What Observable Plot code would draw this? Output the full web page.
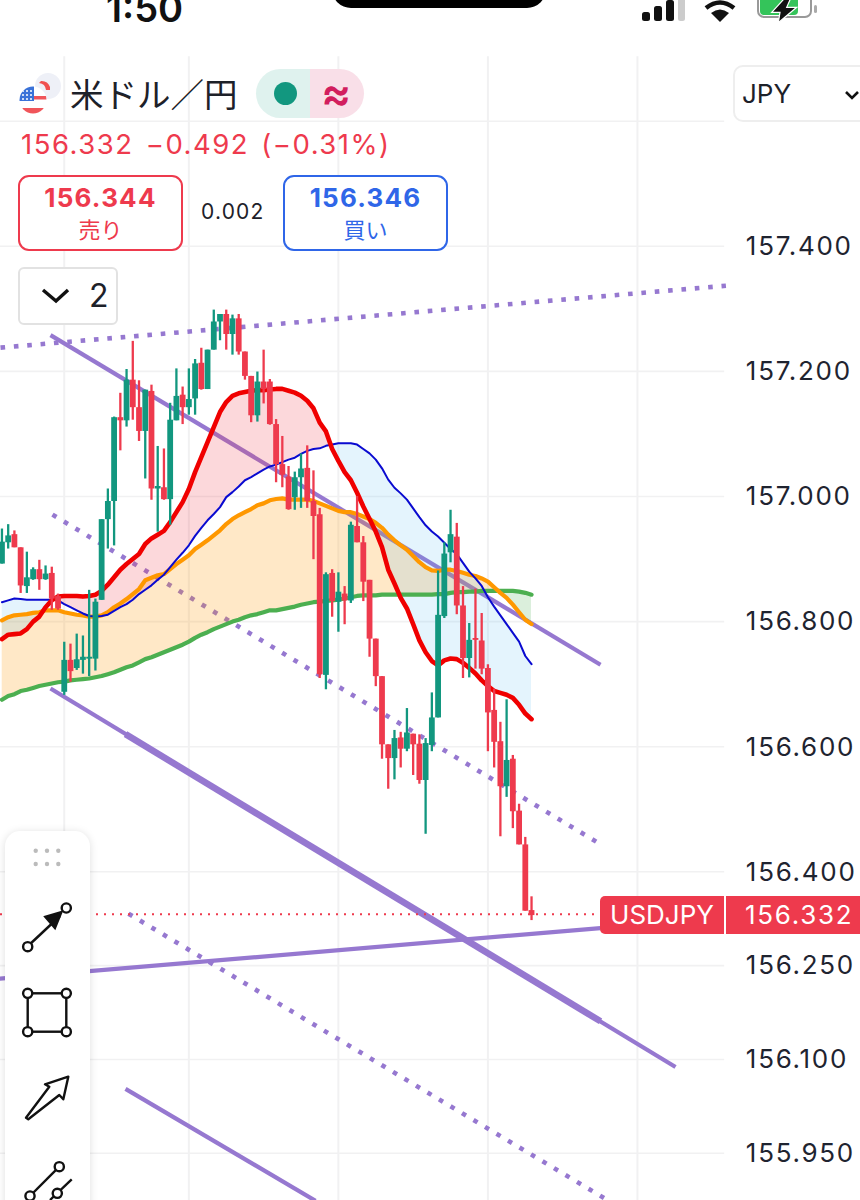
<!DOCTYPE html>
<html lang="ja">
<head>
<meta charset="utf-8">
<script src="https://cdn.jsdelivr.net/npm/d3@7"></script>
<script src="https://cdn.jsdelivr.net/npm/@observablehq/plot@0.6"></script>
<style>
html,body{margin:0;padding:0;background:#fff;width:860px;height:1200px;overflow:hidden}
#page{position:relative;width:860px;height:1200px;overflow:hidden;font-family:Inter,Roboto,sans-serif}
#page svg{display:block}
#page > svg text{letter-spacing:1.7px}
.o{position:absolute;white-space:nowrap;line-height:1}
.c{position:absolute;box-sizing:border-box;text-align:center;border-radius:11px;background:#fff}
</style>
</head>
<body>
<div id="page"></div>
<script>
const open = [156.892,156.926,156.939,156.918,156.856,156.867,156.883,156.867,156.877,156.840,156.687,156.738,156.725,156.738,156.740,156.740,156.834,156.963,156.992,157.126,157.121,157.186,157.142,157.104,157.168,157.012,157.014,156.995,157.121,157.162,157.142,157.156,157.213,157.171,157.234,157.279,157.291,157.259,157.284,157.231,157.192,157.129,157.183,157.183,157.115,157.051,157.031,156.998,157.030,157.045,156.992,156.971,156.714,156.877,156.831,156.844,156.833,156.952,156.926,156.866,156.772,156.712,156.603,156.581,156.614,156.596,156.620,156.604,156.546,156.602,156.646,156.808,156.910,156.935,156.825,156.741,156.773,156.769,156.725,156.658,156.608,156.536,156.580,156.497,156.443,156.338];
const close = [156.927,156.937,156.918,156.857,156.870,156.883,156.867,156.876,156.836,156.820,156.738,156.720,156.739,156.743,156.743,156.831,156.963,156.992,157.126,157.121,157.186,157.142,157.104,157.170,157.012,157.016,156.995,157.122,157.160,157.142,157.155,157.212,157.171,157.234,157.279,157.291,157.259,157.284,157.231,157.192,157.129,157.183,157.171,157.115,157.051,157.034,156.979,157.030,157.044,156.992,156.968,156.715,156.875,156.832,156.847,156.833,156.954,156.926,156.863,156.772,156.712,156.603,156.581,156.613,156.596,156.622,156.603,156.546,156.605,156.646,156.810,156.908,156.939,156.825,156.741,156.770,156.770,156.724,156.654,156.607,156.536,156.578,156.496,156.443,156.337,156.330];
const high = [156.948,156.955,156.945,156.918,156.911,156.886,156.898,156.889,156.887,156.844,156.767,156.764,156.780,156.777,156.850,156.836,156.963,157.012,157.127,157.165,157.203,157.248,157.185,157.170,157.178,157.080,157.076,157.149,157.204,157.175,157.204,157.219,157.237,157.234,157.298,157.291,157.298,157.290,157.291,157.231,157.192,157.199,157.234,157.187,157.123,157.096,157.048,157.039,157.068,157.081,157.041,156.981,156.878,156.883,156.878,156.856,156.959,157.000,156.936,156.866,156.772,156.712,156.603,156.626,156.623,156.661,156.620,156.619,156.613,156.686,156.881,156.926,156.978,156.957,156.856,156.797,156.852,156.813,156.731,156.692,156.639,156.675,156.586,156.508,156.455,156.360];
const low = [156.892,156.916,156.918,156.845,156.845,156.866,156.850,156.866,156.818,156.818,156.682,156.703,156.722,156.716,156.712,156.721,156.834,156.916,156.921,157.073,157.111,157.122,157.088,157.028,156.994,156.943,156.994,156.954,157.121,157.115,157.130,157.130,157.170,157.171,157.234,157.249,157.234,157.226,157.226,157.186,157.118,157.119,157.148,157.114,157.022,157.014,156.978,156.978,156.981,156.981,156.899,156.709,156.691,156.807,156.783,156.795,156.829,156.926,156.832,156.743,156.696,156.580,156.532,156.547,156.566,156.592,156.554,156.540,156.460,156.592,156.646,156.805,156.894,156.811,156.709,156.710,156.724,156.715,156.592,156.566,156.456,156.519,156.469,156.443,156.337,156.322];

const redMA = [156.772,156.779,156.780,156.781,156.788,156.800,156.808,156.823,156.834,156.840,156.841,156.841,156.841,156.840,156.841,156.843,156.849,156.859,156.871,156.883,156.892,156.900,156.908,156.924,156.933,156.939,156.945,156.959,156.975,156.991,157.012,157.039,157.063,157.087,157.111,157.135,157.151,157.161,157.165,157.167,157.169,157.170,157.170,157.171,157.172,157.172,157.169,157.166,157.161,157.153,157.141,157.118,157.104,157.076,157.057,157.039,157.026,157.006,156.984,156.964,156.944,156.919,156.883,156.861,156.838,156.821,156.796,156.770,156.751,156.737,156.730,156.738,156.741,156.740,156.734,156.726,156.717,156.706,156.697,156.689,156.686,156.683,156.678,156.667,156.653,156.644];
const blueMA = [156.831,156.834,156.837,156.836,156.835,156.835,156.835,156.835,156.835,156.834,156.828,156.823,156.818,156.813,156.809,156.808,156.809,156.811,156.817,156.823,156.828,156.835,156.844,156.851,156.858,156.867,156.875,156.887,156.899,156.910,156.922,156.937,156.950,156.962,156.972,156.983,156.999,157.007,157.016,157.026,157.031,157.037,157.043,157.048,157.051,157.055,157.059,157.062,157.068,157.073,157.076,157.077,157.081,157.083,157.085,157.085,157.085,157.083,157.076,157.069,157.059,157.045,157.027,157.014,157.005,156.995,156.981,156.967,156.954,156.944,156.936,156.926,156.916,156.908,156.894,156.880,156.869,156.857,156.839,156.824,156.810,156.796,156.782,156.768,156.745,156.732];
const orangeMA = [156.802,156.807,156.810,156.811,156.812,156.814,156.815,156.818,156.818,156.818,156.815,156.813,156.811,156.810,156.808,156.808,156.810,156.815,156.823,156.829,156.836,156.844,156.852,156.866,156.870,156.874,156.876,156.884,156.892,156.899,156.906,156.916,156.923,156.930,156.938,156.946,156.956,156.964,156.970,156.975,156.980,156.986,156.989,156.994,156.996,156.997,156.995,156.995,156.995,156.995,156.993,156.989,156.985,156.981,156.977,156.975,156.975,156.972,156.968,156.964,156.958,156.950,156.939,156.930,156.922,156.915,156.905,156.895,156.887,156.882,156.881,156.883,156.883,156.881,156.878,156.875,156.873,156.869,156.864,156.855,156.846,156.838,156.827,156.815,156.803,156.796];
const greenMA = [156.675,156.681,156.684,156.689,156.691,156.694,156.697,156.699,156.701,156.703,156.704,156.706,156.707,156.708,156.709,156.711,156.713,156.716,156.719,156.723,156.727,156.730,156.735,156.740,156.743,156.747,156.751,156.755,156.759,156.763,156.768,156.774,156.779,156.783,156.788,156.792,156.796,156.800,156.803,156.807,156.810,156.812,156.815,156.818,156.818,156.820,156.822,156.824,156.827,156.829,156.831,156.832,156.833,156.834,156.835,156.837,156.839,156.841,156.842,156.842,156.842,156.843,156.843,156.843,156.843,156.843,156.843,156.843,156.843,156.843,156.844,156.844,156.846,156.847,156.847,156.848,156.848,156.849,156.849,156.849,156.849,156.849,156.849,156.848,156.846,156.843];

// trend lines: [bar0, price0, bar1, price1]
const solidTrends = [[7.79,157.258,96.07,156.731],[7.79,156.693,108.11,156.088],[-0.39,156.229,96.07,156.310],[19.83,156.053,50.33,155.874]];
const heavyTrends = [[19.83,156.620,96.07,156.161]];
const dottedTrends = [[-0.23,157.238,116.2,157.337],[8.11,156.971,95.75,156.446],[20.31,156.333,96.88,155.877]];

const priceLabels = [157.4,157.2,157.0,156.8,156.6,156.4,156.25,156.1,155.95];
const gridPrices = [157.6,...priceLabels];
const gridBars = [10,30,54,78,102];
const lastPrice = 156.332;
const chartEnd = 116;

const bars = open.map((o,i)=>({i,o,c:close[i],h:high[i],l:low[i],red:redMA[i],blue:blueMA[i],orange:orangeMA[i],green:greenMA[i]}));
const UP="#12977f", DOWN="#ee3a4d", PURPLE="#9678d0";
const seg = a => a.map(([x1,y1,x2,y2])=>({x1,y1,x2,y2}));
const col = d => d.c>=d.o?UP:DOWN;

const chart = Plot.plot({
  width:860,height:1200,margin:0,
  x:{domain:[-0.233,137.8],range:[0,860],axis:null},
  y:{domain:[157.79297,155.8745],range:[0,1200],axis:null},
  style:{background:"#fff",overflow:"hidden"},
  marks:[
    Plot.ruleY(gridPrices,{x1:-0.233,x2:chartEnd,stroke:"#f1f1f2",strokeWidth:1.6}),
    Plot.ruleX(gridBars,{y1:157.703,y2:155.8745,stroke:"#f1f1f2",strokeWidth:2}),
    Plot.link(seg(solidTrends),{x1:"x1",y1:"y1",x2:"x2",y2:"y2",stroke:PURPLE,strokeWidth:4.2}),
    Plot.link(seg(heavyTrends),{x1:"x1",y1:"y1",x2:"x2",y2:"y2",stroke:PURPLE,strokeWidth:6.6}),
    Plot.link(seg(dottedTrends),{x1:"x1",y1:"y1",x2:"x2",y2:"y2",stroke:PURPLE,strokeWidth:4.6,strokeDasharray:"4.6 8.8"}),
    Plot.ruleY([lastPrice],{x1:-0.233,x2:96,stroke:DOWN,strokeWidth:2,strokeDasharray:"2 6"}),
    Plot.differenceY(bars,{x:"i",y1:"green",y2:"orange",positiveFill:"#ff9800",negativeFill:"#4caf50",positiveFillOpacity:0.22,negativeFillOpacity:0.2,stroke:"none"}),
    Plot.differenceY(bars,{x:"i",y1:"blue",y2:"red",positiveFill:"#ee3a4d",negativeFill:"#55b8f2",positiveFillOpacity:0.2,negativeFillOpacity:0.16,stroke:"none"}),
    Plot.line(bars,{x:"i",y:"green",stroke:"#4caf50",strokeWidth:4.2}),
    Plot.line(bars,{x:"i",y:"orange",stroke:"#ff9800",strokeWidth:4.2}),
    Plot.line(bars,{x:"i",y:"blue",stroke:"#0a0ad0",strokeWidth:2}),
    Plot.line(bars,{x:"i",y:"red",stroke:"#f00000",strokeWidth:4.6}),
    Plot.ruleX(bars,{x:"i",y1:"l",y2:"h",stroke:col,strokeWidth:2.3}),
    Plot.ruleX(bars,{x:"i",y1:"o",y2:"c",stroke:col,strokeWidth:5.8}),
    Plot.text(priceLabels,{x:()=>119.4,y:d=>d,dy:0.5,text:d3.format(".3f"),textAnchor:"start",fontSize:26,fontFamily:"Inter,Roboto,sans-serif",fill:"#1f2430"})
  ]
});
const page=document.getElementById("page");
page.appendChild(chart);
function add(cls,style,html){const e=document.createElement("div");e.className=cls;e.style.cssText=style;e.innerHTML=html||"";page.appendChild(e);return e;}

// status bar
add("o","left:106px;top:-11px;font-size:38px;font-weight:600;color:#111","1:50");
add("o","left:332px;top:-30px;width:214px;height:38px;background:#000;border-radius:20px");
add("o","left:641px;top:0;width:60px;height:24px",'<svg width="60" height="24"><g><rect x="1" y="12" width="8" height="9" rx="2.5" fill="#111"/><rect x="13" y="6" width="8" height="15" rx="2.5" fill="#111"/><rect x="25" y="0" width="8" height="21" rx="2.5" fill="#111"/><rect x="37" y="-5" width="7" height="26" rx="2.5" fill="#ccc"/></g></svg>');
add("o","left:700px;top:0;width:44px;height:24px",'<svg width="44" height="24"><path d="M20 22 L11 13 Q20 6 29 13Z" fill="#111"/><path d="M6 8 Q20 -3 34 8" fill="none" stroke="#111" stroke-width="4.5"/></svg>');
add("o","left:755px;top:-4px;width:70px;height:30px",'<svg width="70" height="30"><rect x="3" y="-4" width="53" height="25" rx="6" fill="none" stroke="#999" stroke-width="2"/><rect x="5" y="-3" width="38" height="22" rx="4" fill="#34c45a"/><path d="M31.7 0 L16.7 16.3 L25 16.3 L23.3 26.7 L41.7 11.3 L31.7 11.3 L36.7 0Z" fill="#111" stroke="#fff" stroke-width="1.2"/><rect x="59" y="9" width="3" height="8" rx="1.5" fill="#aaa"/></svg>');

// header
add("o","left:19px;top:72px;width:44px;height:44px",'<svg width="44" height="44" viewBox="0 0 44 44"><circle cx="29" cy="14" r="13" fill="#eef0f7"/><path d="M22 9 a9 9 0 0 1 9 6 l0 3 l-4 0 a8 8 0 0 0 -7 -7Z" fill="#f0504f"/><circle cx="14" cy="28" r="13.5" fill="#fff"/><clipPath id="fc"><circle cx="14" cy="28" r="13.5"/></clipPath><g clip-path="url(#fc)"><rect x="0" y="30" width="28" height="5" fill="#ffffff"/><rect x="0" y="36" width="28" height="6" fill="#f0555a"/><rect x="14" y="24" width="14" height="3.5" fill="#f0555a"/><rect x="0" y="14" width="15" height="15" fill="#3a72d8"/><g fill="#fff"><circle cx="4" cy="19" r="1"/><circle cx="8" cy="19" r="1"/><circle cx="12" cy="19" r="1"/><circle cx="4" cy="23" r="1"/><circle cx="8" cy="23" r="1"/><circle cx="12" cy="23" r="1"/><circle cx="4" cy="27" r="1"/><circle cx="8" cy="27" r="1"/><circle cx="12" cy="27" r="1"/></g></g></svg>');
add("o","left:70px;top:76px;font-size:33.5px;font-family:'Noto Sans CJK JP';color:#1d2129","米ドル／円");
add("o","left:256px;top:69px;width:54px;height:49px;background:#dff2ee;border-radius:25px 0 0 25px",'<div style="position:absolute;left:18px;top:13px;width:23px;height:23px;border-radius:50%;background:#12977f"></div>');
add("o","left:310px;top:69px;width:54px;height:49px;background:#f9dfe8;border-radius:0 25px 25px 0;color:#d21e5e;font-size:45px;font-weight:600;text-align:left;padding-left:11px;box-sizing:border-box;line-height:47px","≈");
add("o","left:21px;top:131px;font-size:27.5px;color:#ee3a4d;letter-spacing:1.5px;word-spacing:3px","156.332 −0.492 (−0.31%)");

add("c","left:18px;top:175px;width:165px;height:76px;border:2px solid #ee3a4d;color:#ee3a4d",'<div style="font-size:26px;font-weight:700;margin-top:6px;line-height:30px;letter-spacing:1.2px">156.344</div><div style="font-size:22px;font-family:\'Noto Sans CJK JP\';line-height:30px">売り</div>');
add("o","left:201px;top:201px;font-size:21px;color:#1d2129;letter-spacing:1.2px","0.002");
add("c","left:283px;top:175px;width:165px;height:76px;border:2px solid #2f66e8;color:#2f66e8",'<div style="font-size:26px;font-weight:700;margin-top:6px;line-height:30px;letter-spacing:1.2px">156.346</div><div style="font-size:22px;font-family:\'Noto Sans CJK JP\';line-height:30px">買い</div>');
add("c","left:18px;top:267px;width:100px;height:58px;border:2px solid #e2e2e2;border-radius:6px",'<svg width="96" height="54" style="position:absolute;left:0;top:0"><path d="M23 21 L36 32 L48 21" fill="none" stroke="#111" stroke-width="3.4"/></svg><div style="position:absolute;left:69px;top:10px;font-size:32px;color:#1d2129;line-height:34px">2</div>');
add("o","left:733px;top:65px;width:140px;height:57px;border:2px solid #eee;border-radius:10px;box-sizing:border-box;background:#fff",'<div style="position:absolute;left:7px;top:13px;font-size:26px;color:#1d2129;line-height:28px">JPY</div><svg width="24" height="16" style="position:absolute;left:108px;top:21px"><path d="M3 4 L9 10 L15 4" fill="none" stroke="#111" stroke-width="2.6"/></svg>');

// price tag
add("o","left:600px;top:896px;width:124px;height:38px;background:#ee3a4d;border-radius:5px 0 0 5px;color:#fff;font-size:26px;line-height:38px;text-align:center","USDJPY");
add("o","left:726px;top:896px;width:134px;height:38px;background:#ee3a4d;color:#fff;font-size:26px;line-height:38px;padding-left:19px;box-sizing:border-box;letter-spacing:1.7px","156.332");

// drawing toolbar
const c=(x,y)=>`<circle cx="${x}" cy="${y}" r="4.6" fill="#fff" stroke="#111" stroke-width="2.4"/>`;
add("o","left:5px;top:831px;width:85px;height:400px;background:#fff;border-radius:15px;box-shadow:0 1px 8px rgba(0,0,0,.13)",
`<svg width="85" height="370" style="position:absolute;left:0;top:0">
<g fill="#bbb">${[30.7,42,53.3].flatMap(x=>[19.7,33].map(y=>`<circle cx="${x}" cy="${y}" r="2.2"/>`)).join("")}</g>
<line x1="23" y1="115" x2="55" y2="85" stroke="#111" stroke-width="2.4"/><path d="M40 85.7 L56.7 80.7 L50 97.3Z" fill="#111" stroke="#111" stroke-width="2"/>${c(22.7,115.7)}${c(61.3,77)}
<rect x="22.7" y="162.3" width="38.6" height="38.4" fill="none" stroke="#111" stroke-width="2.4"/>${c(22.7,162.3)}${c(61.3,162.3)}${c(22.7,200.7)}${c(61.3,200.7)}
<path d="M21 286.7 L44.3 255.7 L40 253.3 L63.3 245.7 L58.3 268.3 L54.3 264 L23.3 288.3Z" fill="none" stroke="#111" stroke-width="2.4" stroke-linejoin="round"/>
<line x1="25" y1="365" x2="54.3" y2="335.7" stroke="#111" stroke-width="2.4"/><line x1="66.7" y1="348.3" x2="45" y2="369" stroke="#111" stroke-width="2.4"/>${c(25,365)}${c(54.3,335.7)}${c(52.3,362.3)}
</svg>`);
</script>
</body>
</html>
